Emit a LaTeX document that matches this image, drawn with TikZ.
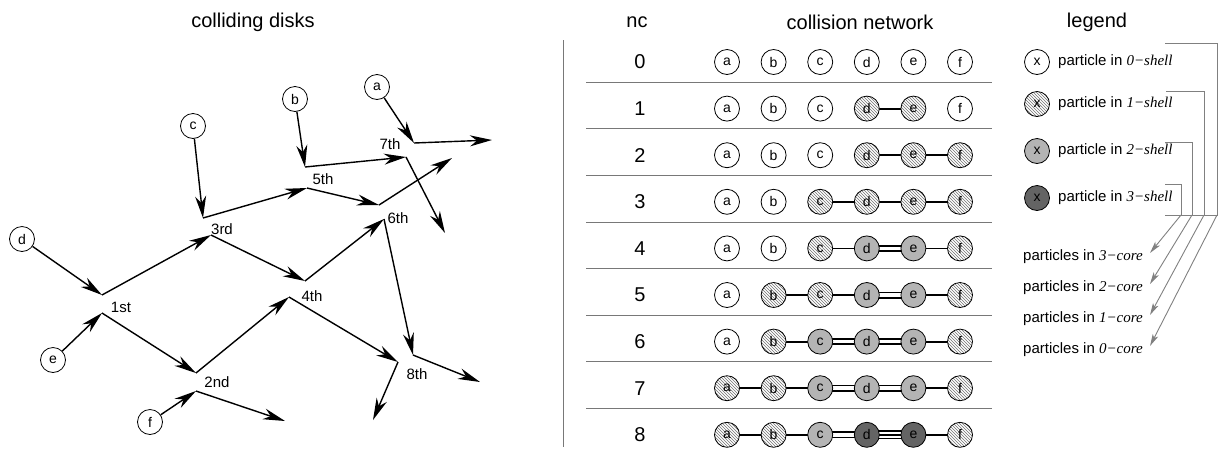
\documentclass[tikz,border=0pt]{standalone}
\usepackage{fontspec}
\setmainfont{Liberation Sans}
\newfontfamily\tms{Liberation Serif}
\usetikzlibrary{arrows.meta,patterns}
\pgfdeclarelayer{bg}
\pgfsetlayers{bg,main}
\definecolor{midgray}{RGB}{180,180,180}
\definecolor{darkgray3}{RGB}{100,100,100}
\definecolor{linegray}{RGB}{120,120,120}
\begin{document}
\begin{tikzpicture}[x=1pt,y=-1pt,
  disk/.style={circle,draw,line width=0.8pt,minimum size=25pt,inner sep=0pt,font=\fontsize{14}{14}\selectfont},
  s0/.style={disk,fill=white},
  s1/.style={disk,preaction={fill=white},pattern=north west lines,pattern color=black!55},
  s2/.style={disk,fill=midgray},
  s3/.style={disk,fill=darkgray3},
  arr/.style={line width=1.4pt,-{Stealth[length=22pt,width=11pt,inset=7pt]}},
  lab/.style={font=\fontsize{15}{15}\selectfont,inner sep=0pt},
  ttl/.style={font=\fontsize{20}{20}\selectfont,inner sep=0pt},
  num/.style={font=\fontsize{20}{20}\selectfont,inner sep=0pt},
  e1/.style={line width=1.8pt},
  e2/.style={line width=1.7pt,double=white,double distance=3.6pt},
  e3/.style={line width=9pt,draw=black,postaction={draw=white,line width=5.8pt},postaction={draw=black,line width=1.6pt}},
  sep/.style={draw=linegray,line width=1pt},
  brk/.style={draw=black!50,line width=0.9pt},
  garr/.style={draw=black!50,line width=0.9pt,-{Stealth[length=12pt,width=6pt,inset=3pt,fill=black!50]}},
  leg/.style={font=\fontsize{15}{15}\selectfont,inner sep=0pt,anchor=west}
]
\useasboundingbox (0,0) rectangle (1223,448);

% titles
\node[ttl] (t1) at (253,22) {colliding disks};
\node[ttl] (t2) at (637,22) {nc};
\node[ttl] (t3) at (860,22) {collision network};
\node[ttl] (t4) at (1097,22) {legend};

% ---------------- colliding disks ----------------
\node[s0] (pa) at (377,87) {a};
\node[s0] (pb) at (295,99) {b};
\node[s0] (pc) at (193,126) {c};
\node[s0] (pd) at (22,239) {d};
\node[s0] (pe) at (53,360) {e};
\node[s0] (pf) at (150,422) {f};

\coordinate (u1) at (102,295); \coordinate (l1) at (102,313);
\coordinate (u2) at (196,373); \coordinate (l2) at (196,391);
\coordinate (u3) at (203,218); \coordinate (l3) at (211,235);
\coordinate (u4) at (305,281); \coordinate (l4) at (289,297);
\coordinate (u5) at (305,167); \coordinate (l5) at (307,188);
\coordinate (u6) at (379,205); \coordinate (l6) at (384,219);
\coordinate (u7) at (414,143); \coordinate (l7) at (406,157);
\coordinate (u8) at (413,355); \coordinate (l8) at (398,362);
\coordinate (o2) at (285,421);
\coordinate (o6) at (452,158);
\coordinate (o7a) at (492,140);
\coordinate (o7b) at (445,233);
\coordinate (o8a) at (480,382);
\coordinate (o8b) at (373,420);

\draw[arr] (pd) -- (u1);
\draw[arr] (pe) -- (l1);
\draw[arr] (pf) -- (l2);
\draw[arr] (pc) -- (u3);
\draw[arr] (pb) -- (u5);
\draw[arr] (pa) -- (u7);
\draw[arr] (u1) -- (l3);
\draw[arr] (l1) -- (u2);
\draw[arr] (u2) -- (l4);
\draw[arr] (l2) -- (o2);
\draw[arr] (u3) -- (l5);
\draw[arr] (l3) -- (u4);
\draw[arr] (u4) -- (l6);
\draw[arr] (l4) -- (l8);
\draw[arr] (u5) -- (l7);
\draw[arr] (l5) -- (u6);
\draw[arr] (u6) -- (o6);
\draw[arr] (l6) -- (u8);
\draw[arr] (u7) -- (o7a);
\draw[arr] (l7) -- (o7b);
\draw[arr] (u8) -- (o8a);
\draw[arr] (l8) -- (o8b);

\node[lab] (c1) at (121,307) {1st};
\node[lab] (c2) at (217,382) {2nd};
\node[lab] (c3) at (222,229) {3rd};
\node[lab] (c4) at (312,296) {4th};
\node[lab] (c5) at (323,179) {5th};
\node[lab] (c6) at (398,218) {6th};
\node[lab] (c7) at (390,144) {7th};
\node[lab] (c8) at (417,374) {8th};

% ---------------- separator ----------------
\coordinate (vs1) at (563,40); \coordinate (vs2) at (563,447);
\draw[sep] (vs1) -- (vs2);

% ---------------- collision network ----------------
\foreach \r/\A/\B/\C/\D/\E/\F in {
  0/s0/s0/s0/s0/s0/s0,
  1/s0/s0/s0/s1/s1/s0,
  2/s0/s0/s0/s1/s1/s1,
  3/s0/s0/s1/s1/s1/s1,
  4/s0/s0/s1/s2/s2/s1,
  5/s0/s1/s1/s2/s2/s1,
  6/s0/s1/s2/s2/s2/s1,
  7/s1/s1/s2/s2/s2/s1,
  8/s1/s1/s2/s3/s3/s1}{
  \node[num] (nc\r) at (640,{62+46.6*\r}) {\r};
  \node[style=\A] (a\r) at (727,{62+46.6*\r}) {a};
  \node[style=\B] (b\r) at (773.6,{62+46.6*\r}) {b};
  \node[style=\C] (c\r) at (820.2,{62+46.6*\r}) {c};
  \node[style=\D] (d\r) at (866.8,{62+46.6*\r}) {d};
  \node[style=\E] (e\r) at (913.4,{62+46.6*\r}) {e};
  \node[style=\F] (f\r) at (960,{62+46.6*\r}) {f};
}
\foreach \r in {0,...,7}{
  \coordinate (hl\r) at (586,{62+46.6*(\r+0.5)-3});
  \coordinate (hr\r) at (992,{62+46.6*(\r+0.5)-3});
  \draw[sep] (hl\r) -- (hr\r);
}
\begin{pgfonlayer}{bg}
\draw[e1] (d1.center) -- (e1.center);
\draw[e1] (d2.center) -- (e2.center);
\draw[e1] (e2.center) -- (f2.center);
\draw[e1] (c3.center) -- (d3.center);
\draw[e1] (d3.center) -- (e3.center);
\draw[e1] (e3.center) -- (f3.center);
\draw[e1] (c4.center) -- (d4.center);
\draw[e2] (d4.center) -- (e4.center);
\draw[e1] (e4.center) -- (f4.center);
\draw[e1] (b5.center) -- (c5.center);
\draw[e1] (c5.center) -- (d5.center);
\draw[e2] (d5.center) -- (e5.center);
\draw[e1] (e5.center) -- (f5.center);
\draw[e1] (b6.center) -- (c6.center);
\draw[e2] (c6.center) -- (d6.center);
\draw[e2] (d6.center) -- (e6.center);
\draw[e1] (e6.center) -- (f6.center);
\draw[e1] (a7.center) -- (b7.center);
\draw[e1] (b7.center) -- (c7.center);
\draw[e2] (c7.center) -- (d7.center);
\draw[e2] (d7.center) -- (e7.center);
\draw[e1] (e7.center) -- (f7.center);
\draw[e1] (a8.center) -- (b8.center);
\draw[e1] (b8.center) -- (c8.center);
\draw[e2] (c8.center) -- (d8.center);
\draw[e3] (d8.center) -- (e8.center);
\draw[e1] (e8.center) -- (f8.center);
\end{pgfonlayer}

% ---------------- legend ----------------
\node[s0] (lx0) at (1037,62) {x};
\node[s1] (lx1) at (1037,104) {x};
\node[s2] (lx2) at (1037,151) {x};
\node[s3] (lx3) at (1037,198) {x};
\node[leg] (lt0) at (1058,62) {particle in {\tms\itshape 0−shell}};
\node[leg] (lt1) at (1058,104) {particle in {\tms\itshape 1−shell}};
\node[leg] (lt2) at (1058,151) {particle in {\tms\itshape 2−shell}};
\node[leg] (lt3) at (1058,198) {particle in {\tms\itshape 3−shell}};

\node[leg] (ct3) at (1023,257) {particles in {\tms\itshape 3−core}};
\node[leg] (ct2) at (1023,288) {particles in {\tms\itshape 2−core}};
\node[leg] (ct1) at (1023,319) {particles in {\tms\itshape 1−core}};
\node[leg] (ct0) at (1023,350) {particles in {\tms\itshape 0−core}};

\coordinate (bt0) at (1165,43);  \coordinate (bc0) at (1217,43);  \coordinate (bv0) at (1217,215);
\coordinate (bt1) at (1166,91);  \coordinate (bc1) at (1204,91);  \coordinate (bv1) at (1204,215);
\coordinate (bt2) at (1165,142); \coordinate (bc2) at (1192,142); \coordinate (bv2) at (1192,215);
\coordinate (bt3) at (1165,184); \coordinate (bc3) at (1181,184); \coordinate (bv3) at (1181,215);
\coordinate (bb) at (1165,215);
\draw[brk] (bt0) -- (bc0) -- (bv0) -- (bb);
\draw[brk] (bt1) -- (bc1) -- (bv1);
\draw[brk] (bt2) -- (bc2) -- (bv2);
\draw[brk] (bt3) -- (bc3) -- (bv3);

\coordinate (ta3) at (1150,253);
\coordinate (ta2) at (1150,284);
\coordinate (ta1) at (1150,315);
\coordinate (ta0) at (1150,346);
\draw[garr] (bv3) -- (ta3);
\draw[garr] (bv2) -- (ta2);
\draw[garr] (bv1) -- (ta1);
\draw[garr] (bv0) -- (ta0);
\end{tikzpicture}
\end{document}
